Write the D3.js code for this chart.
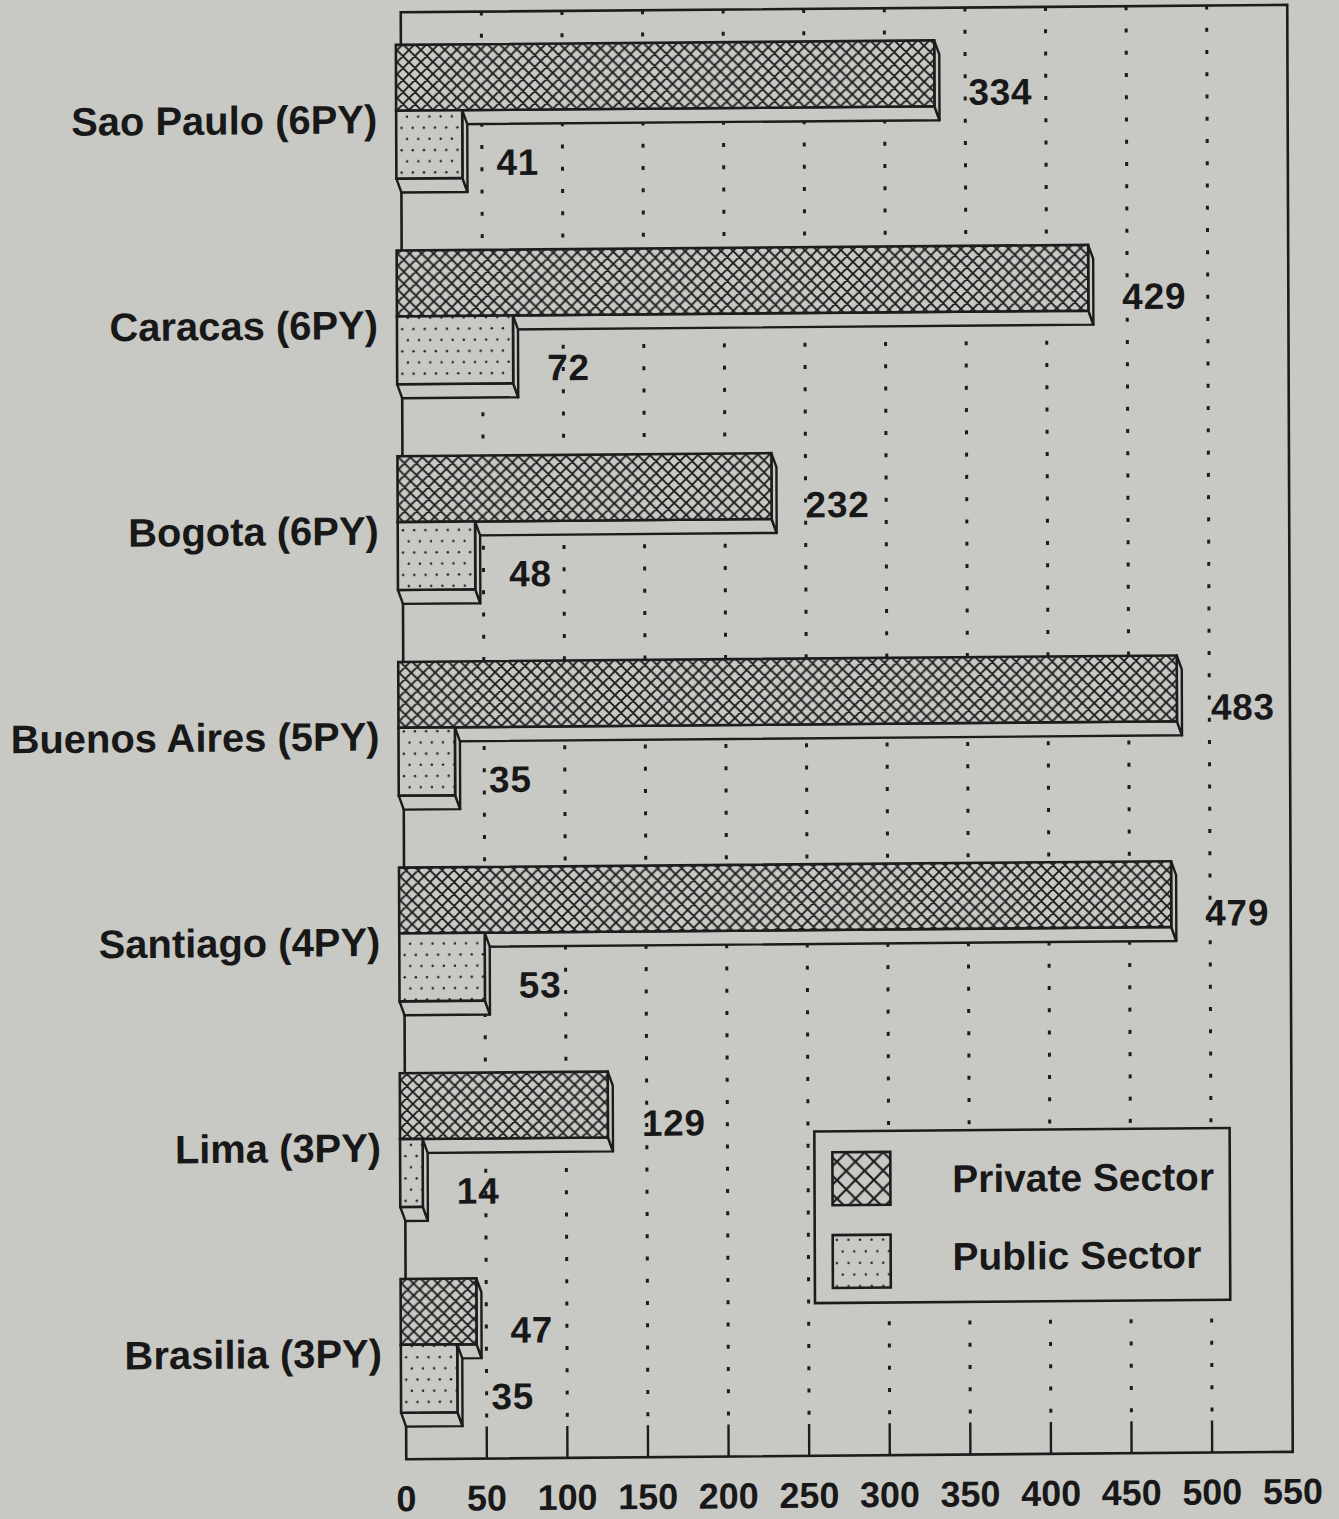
<!DOCTYPE html>
<html>
<head>
<meta charset="utf-8">
<script src="https://cdn.jsdelivr.net/npm/d3@7"></script>
<style>
  html, body { margin: 0; padding: 0; background: #c8c8c5; }
  svg { display: block; }
  text { font-family: "Liberation Sans", Arial, Helvetica, sans-serif; font-weight: bold; fill: #181818; }
</style>
</head>
<body>
<svg id="chart" width="1339" height="1519"></svg>
<script>
// Posts and their staffing, top to bottom
const cities = ["Sao Paulo (6PY)", "Caracas (6PY)", "Bogota (6PY)", "Buenos Aires (5PY)",
                "Santiago (4PY)", "Lima (3PY)", "Brasilia (3PY)"];
const privateSector = [334, 429, 232, 483, 479, 129, 47];
const publicSector  = [41, 72, 48, 35, 53, 14, 35];
const seriesNames   = ["Private Sector", "Public Sector"];
const xTicks        = [0, 50, 100, 150, 200, 250, 300, 350, 400, 450, 500, 550];
const gridTicks     = [50, 100, 150, 200, 250, 300, 350, 400, 450, 500];

const BG = "#c8c8c5", INK = "#1c1c1c";
const frame = { left: 400, right: 1288, top: 10, bottom: 1460 };

const svg = d3.select("#chart");
svg.append("rect").attr("width", 1339).attr("height", 1519).attr("fill", BG);

// Fill patterns: diagonal cross-hatch and staggered dots
const defs = svg.append("defs");
function hatchPattern(id, s, w) {
  const p = defs.append("pattern").attr("id", id)
    .attr("patternUnits", "userSpaceOnUse").attr("width", s).attr("height", s);
  p.append("rect").attr("width", s).attr("height", s).attr("fill", BG);
  let d = "";
  for (const k of [-1, 0, 1]) d += `M-1,${-1 + k * s}L${s + 1},${s + 1 + k * s}`;
  for (const k of [0, 1, 2]) d += `M-1,${k * s + 1}L${s + 1},${k * s - s - 1}`;
  p.append("path").attr("d", d).attr("stroke", INK).attr("stroke-width", w).attr("fill", "none");
}
function dotPattern(id, s) {
  const p = defs.append("pattern").attr("id", id)
    .attr("patternUnits", "userSpaceOnUse").attr("width", s).attr("height", 2 * s);
  p.append("rect").attr("width", s).attr("height", 2 * s).attr("fill", BG);
  p.append("circle").attr("cx", 2.7).attr("cy", 2.7).attr("r", 1.2).attr("fill", INK);
  p.append("circle").attr("cx", 2.7 + s / 2).attr("cy", 2.7 + s).attr("r", 1.2).attr("fill", INK);
}
hatchPattern("hatch", 12, 1.9);
hatchPattern("hatchKey", 18.5, 2.2);
dotPattern("dots", 11.2);
dotPattern("dotsKey", 11.6);

// Whole chart sits on a slightly skewed page
const g = svg.append("g")
  .attr("transform", "matrix(0.9983,-0.0083,0.0038,0.9979,1.39,5.6)");

const x = d3.scaleLinear().domain([0, 550]).range([frame.left, frame.right]);
const y = d3.scaleBand().domain(cities).range([frame.top, frame.bottom])
  .paddingInner(0.282).paddingOuter(0.1585);

const bw = y.bandwidth();
const privH = bw * 66 / 148, pubH = bw * 68 / 148, depthY = bw * 14 / 148, depthX = 5;
const tickLen = 32;

// Dotted gridlines and solid bottom ticks
g.append("g").selectAll("line").data(gridTicks).join("line")
  .attr("x1", d => x(d)).attr("x2", d => x(d))
  .attr("y1", frame.top).attr("y2", frame.bottom - tickLen)
  .attr("stroke", INK).attr("stroke-width", 3)
  .attr("stroke-dasharray", "4 18.3");
g.append("g").selectAll("line").data(gridTicks).join("line")
  .attr("x1", d => x(d)).attr("x2", d => x(d))
  .attr("y1", frame.bottom - tickLen).attr("y2", frame.bottom)
  .attr("stroke", INK).attr("stroke-width", 2.4);

// Frame
g.append("rect")
  .attr("x", frame.left).attr("y", frame.top)
  .attr("width", frame.right - frame.left).attr("height", frame.bottom - frame.top)
  .attr("fill", "none").attr("stroke", INK).attr("stroke-width", 2.6);

// Extruded bar: patterned front face with bottom and right depth faces
function bar(parent, value, top, h, pattern) {
  const x0 = x(0), x1 = x(value), yB = top + h;
  const line = d3.line();
  parent.append("path")
    .attr("d", line([[x0 - depthX, yB], [x1 - depthX, yB], [x1, yB + depthY], [x0, yB + depthY]]) + "Z")
    .attr("fill", BG).attr("stroke", INK).attr("stroke-width", 2.4).attr("stroke-linejoin", "round");
  parent.append("path")
    .attr("d", line([[x1 - depthX, top], [x1, top + depthY], [x1, yB + depthY], [x1 - depthX, yB]]) + "Z")
    .attr("fill", BG).attr("stroke", INK).attr("stroke-width", 2.4).attr("stroke-linejoin", "round");
  parent.append("rect")
    .attr("x", x0 - depthX).attr("y", top)
    .attr("width", x1 - x0).attr("height", h)
    .attr("fill", `url(#${pattern})`).attr("stroke", INK).attr("stroke-width", 2.6);
}

const valueFont = 37, labelFont = 40;
cities.forEach((c, i) => {
  const T = y(c);
  const grp = g.append("g");
  bar(grp, privateSector[i], T, privH, "hatch");
  bar(grp, publicSector[i], T + privH, pubH, "dots");

  grp.append("text")
    .attr("x", x(privateSector[i]) + 29).attr("y", T + 51.5 + valueFont * 0.36)
    .attr("font-size", valueFont).attr("letter-spacing", 0.8)
    .text(privateSector[i]);
  grp.append("text")
    .attr("x", x(publicSector[i]) + 29).attr("y", T + 118 + valueFont * 0.36)
    .attr("font-size", valueFont).attr("letter-spacing", 0.8)
    .text(publicSector[i]);

  grp.append("text")
    .attr("x", frame.left - 24).attr("y", T + bw / 2 + labelFont * 0.36)
    .attr("text-anchor", "end").attr("font-size", labelFont)
    .text(c);
});

// Axis tick labels
g.append("g").selectAll("text").data(xTicks).join("text")
  .attr("x", d => x(d)).attr("y", 1512)
  .attr("text-anchor", "middle").attr("font-size", 36)
  .text(d => d);

// Legend
const lg = g.append("g");
lg.append("rect").attr("x", 810).attr("y", 1135).attr("width", 416).attr("height", 172)
  .attr("fill", BG).attr("stroke", INK).attr("stroke-width", 2.6);
const legendRows = [
  { name: seriesNames[0], pattern: "hatchKey", top: 1156, base: 1197 },
  { name: seriesNames[1], pattern: "dotsKey", top: 1239, base: 1275 }
];
legendRows.forEach(r => {
  lg.append("rect").attr("x", 828).attr("y", r.top).attr("width", 58).attr("height", 53)
    .attr("fill", `url(#${r.pattern})`).attr("stroke", INK).attr("stroke-width", 2.6);
  lg.append("text").attr("x", 948).attr("y", r.base).attr("font-size", 39).text(r.name);
});
</script>
</body>
</html>
